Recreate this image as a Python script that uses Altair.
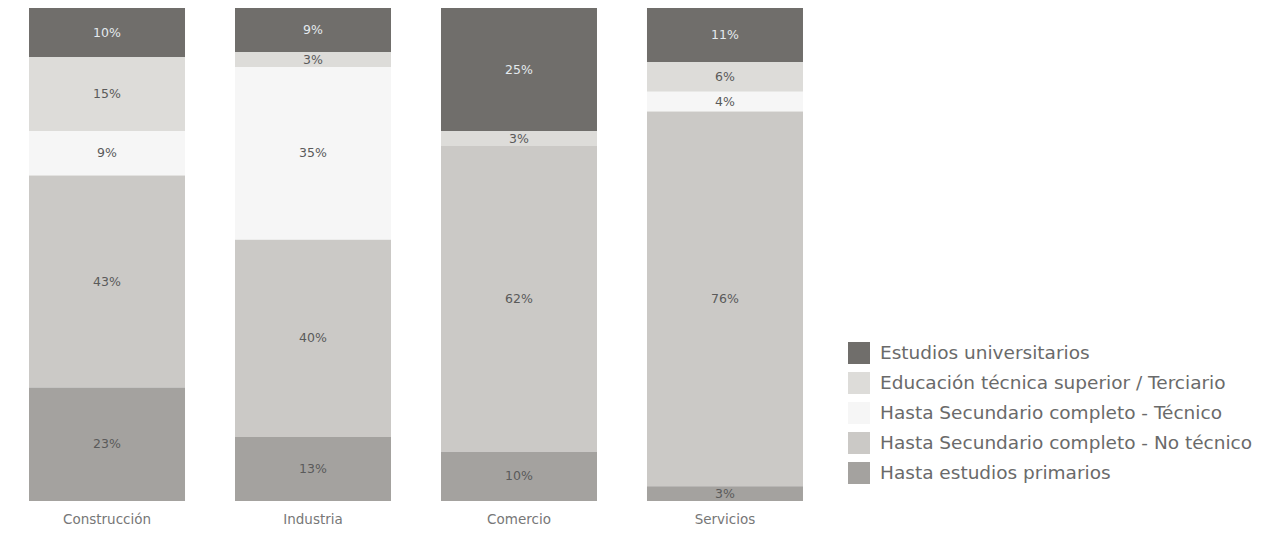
import altair as alt
import pandas as pd

sectores = ["Construcción", "Industria", "Comercio", "Servicios"]
niveles = [
    "Estudios universitarios",
    "Educación técnica superior / Terciario",
    "Hasta Secundario completo - Técnico",
    "Hasta Secundario completo - No técnico",
    "Hasta estudios primarios",
]
universitarios = [10, 9, 25, 11]
terciario = [15, 3, 3, 6]
tecnico = [9, 35, 0, 4]
no_tecnico = [43, 40, 62, 76]
primarios = [23, 13, 10, 3]
colores = ["#706e6b", "#dddcd9", "#f6f6f6", "#cbc9c6", "#a4a29f"]

series = [universitarios, terciario, tecnico, no_tecnico, primarios]
rows = []
for i, nivel in enumerate(niveles):
    for j, sec in enumerate(sectores):
        rows.append({"sector": sec, "nivel": nivel, "valor": series[i][j],
                     "orden": len(niveles) - 1 - i, "oscuro": 1 if i == 0 else 0})
df = pd.DataFrame(rows)

FONT = "DejaVu Sans"

x = alt.X("sector:N", sort=sectores, title=None,
          scale=alt.Scale(paddingInner=0.2427, paddingOuter=0.102),
          axis=alt.Axis(domain=False, ticks=False, grid=False, labelAngle=0, labelFontSize=13.5,
                        labelColor="#777777", labelFont=FONT, labelPadding=11))

base = alt.Chart(df).transform_stack(
    stack="valor", groupby=["sector"], as_=["y0", "y1"],
    sort=[alt.SortField("orden", order="ascending")]
).transform_calculate(mid="(datum.y0 + datum.y1) / 2",
                      etiqueta="datum.valor + '%'")

yscale = alt.Scale(domain=[0, 100], nice=False, zero=True)

bars = base.mark_bar(strokeWidth=0).encode(
    x=x,
    y=alt.Y("y0:Q", scale=yscale, axis=None),
    y2="y1:Q",
    color=alt.Color("nivel:N", sort=niveles,
                    scale=alt.Scale(domain=niveles, range=colores),
                    legend=alt.Legend(title=None, orient="none", legendX=840, legendY=334,
                                      symbolType="square", symbolSize=484,
                                      symbolStrokeWidth=0, symbolOpacity=1,
                                      labelFontSize=18.5, labelFont=FONT, labelColor="#6a6a6a",
                                      rowPadding=8, labelOffset=10, padding=0,
                                      labelLimit=500)),
)

labels = base.transform_filter("datum.valor > 0").mark_text(
    fontSize=12.5, font=FONT, baseline="middle"
).encode(
    x=x,
    y=alt.Y("mid:Q", scale=yscale, axis=None),
    text="etiqueta:N",
    color=alt.condition("datum.oscuro == 1", alt.value("#e4eaee"), alt.value("#5a5a5a")),
)

chart = alt.layer(bars, labels).properties(
    width=816, height=493, background="white",
    padding={"left": 0, "top": 0, "right": 0, "bottom": 0},
).configure_view(stroke=None, strokeWidth=0)

chart.save("out.html", embed_options={"renderer": "svg", "actions": False})
